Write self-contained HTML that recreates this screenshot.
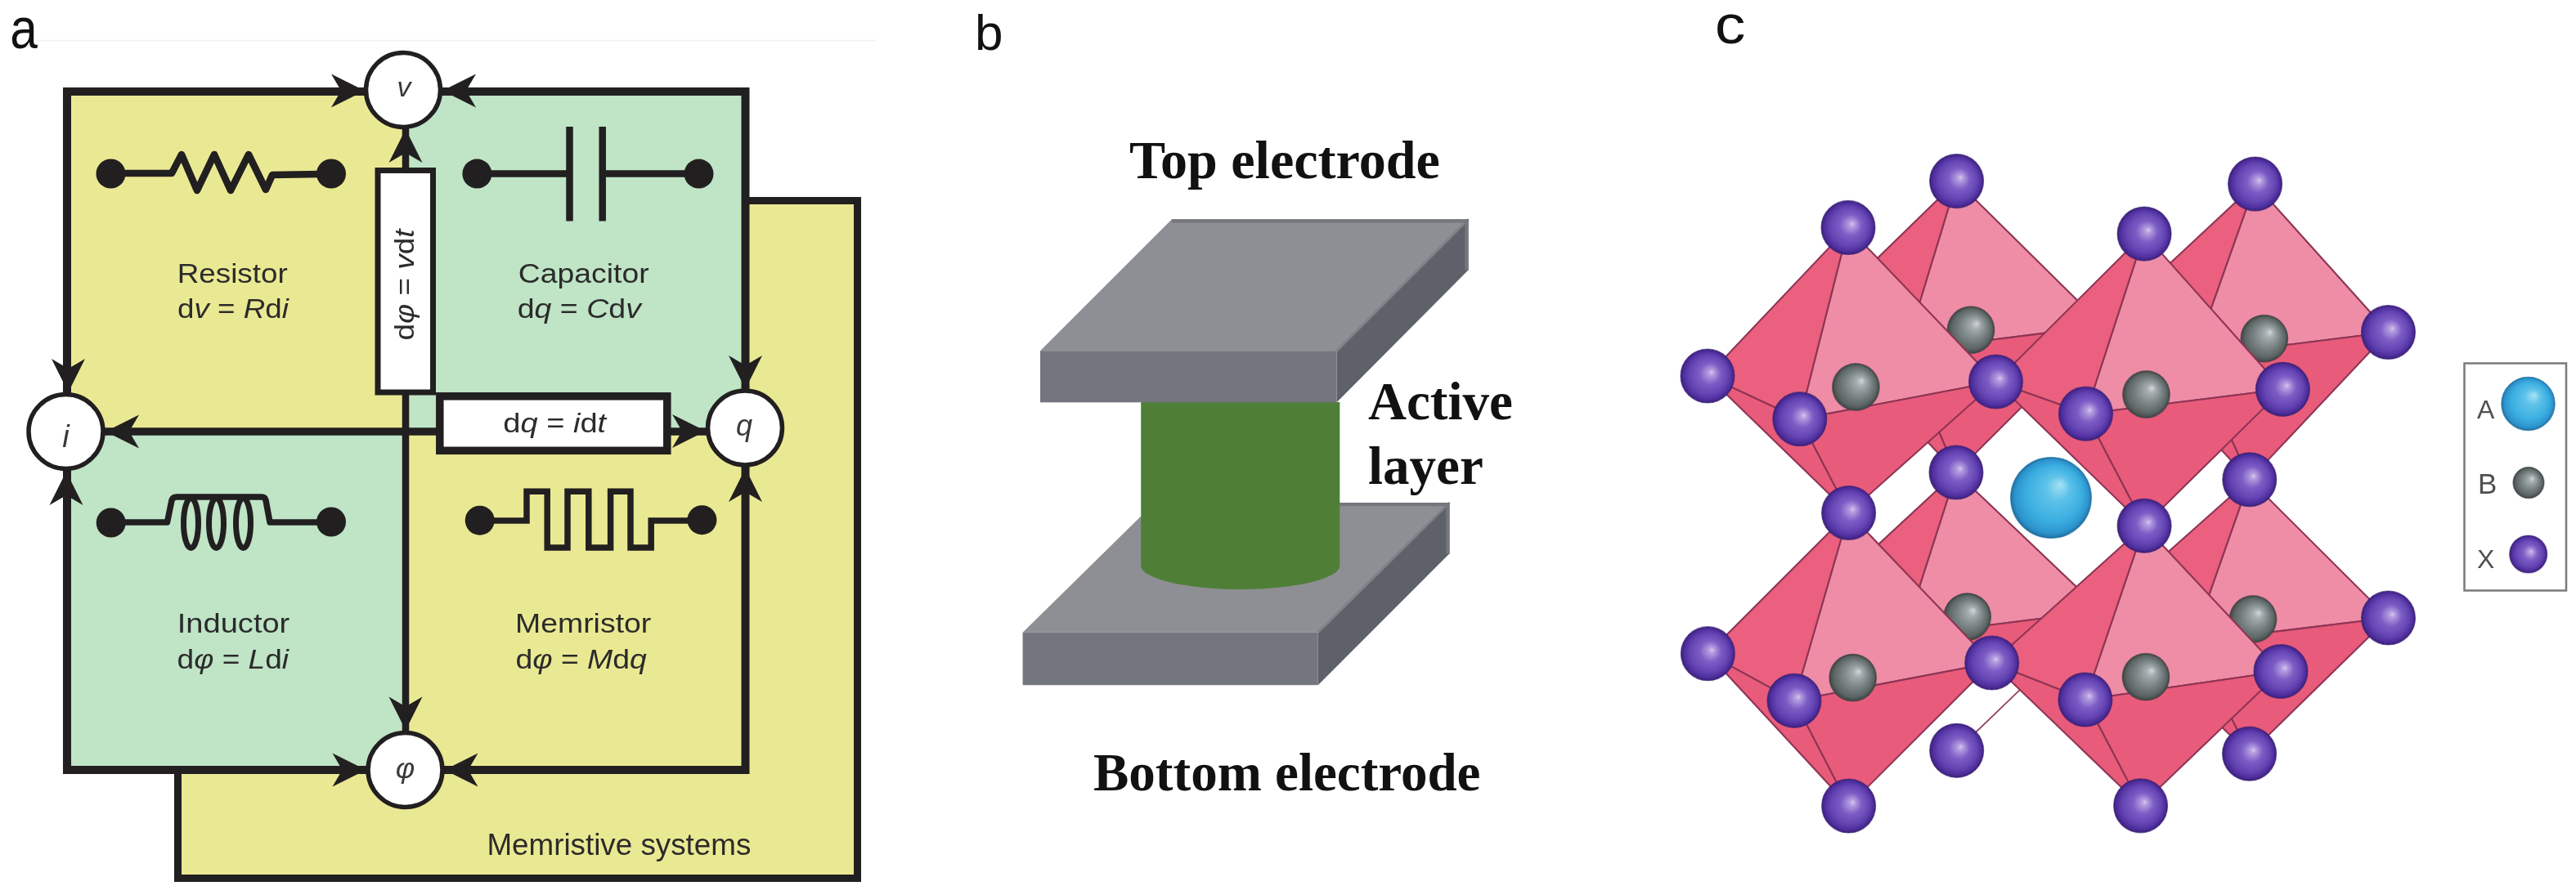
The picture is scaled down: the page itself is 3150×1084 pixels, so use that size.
<!DOCTYPE html>
<html><head><meta charset="utf-8"><style>
html,body{margin:0;padding:0;background:#fff;width:3150px;height:1084px;overflow:hidden}
svg{display:block;will-change:transform}
</style></head><body>
<svg width="3150" height="1084" viewBox="0 0 3150 1084">
<defs>
<radialGradient id="gX" cx="50%" cy="50%" r="50%" fx="58%" fy="43%">
<stop offset="0" stop-color="#D6C6EE"/><stop offset="0.12" stop-color="#B29ADF"/><stop offset="0.4" stop-color="#7C5CC4"/><stop offset="0.72" stop-color="#6444B2"/><stop offset="0.9" stop-color="#4E2E9C"/><stop offset="1" stop-color="#3A2078"/></radialGradient>
<radialGradient id="gB" cx="50%" cy="50%" r="50%" fx="63%" fy="36%">
<stop offset="0" stop-color="#D2D6DA"/><stop offset="0.2" stop-color="#A4ABAE"/><stop offset="0.55" stop-color="#7A8484"/><stop offset="0.85" stop-color="#5C6464"/><stop offset="1" stop-color="#3E4444"/></radialGradient>
<radialGradient id="gA" cx="50%" cy="50%" r="50%" fx="62%" fy="33%">
<stop offset="0" stop-color="#A8E2F4"/><stop offset="0.3" stop-color="#5EC2EA"/><stop offset="0.7" stop-color="#3AAEE0"/><stop offset="0.92" stop-color="#2C92CC"/><stop offset="1" stop-color="#1F6E9E"/></radialGradient>
</defs>
<rect width="3150" height="1084" fill="#fff"/>
<line x1="45" y1="49.5" x2="1071" y2="49.5" stroke="#f1f1f1" stroke-width="1.5"/>
<text x="12.3" y="59.4" font-family="Liberation Sans, sans-serif" font-size="70" fill="#111" textLength="33.6" lengthAdjust="spacingAndGlyphs">a</text>
<rect x="217.5" y="245.5" width="831" height="829" fill="#EAE993" stroke="#221F20" stroke-width="9"/>
<rect x="82" y="112" width="414" height="416" fill="#EAE993"/>
<rect x="496" y="112" width="415.5" height="416" fill="#BFE4C6"/>
<rect x="82" y="528" width="414" height="414" fill="#BFE4C6"/>
<rect x="496" y="528" width="415.5" height="414" fill="#EAE993"/>
<path d="M82,528 L82,112 L911.5,112 L911.5,942 L82,942 Z" fill="none" stroke="#221F20" stroke-width="10" stroke-linejoin="miter"/>
<line x1="496" y1="150" x2="496" y2="900" stroke="#221F20" stroke-width="8.5"/>
<line x1="120" y1="528" x2="870" y2="528" stroke="#221F20" stroke-width="9.5"/>
<rect x="462" y="208.5" width="67.5" height="271.5" fill="#fff" stroke="#221F20" stroke-width="7"/>
<rect x="537.8" y="484.8" width="278" height="66.5" fill="#fff" stroke="#221F20" stroke-width="9.5"/>
<polygon points="446.0,111.0 405.0,131.5 417.0,111.0 405.0,90.5" fill="#221F20"/>
<polygon points="541.0,111.0 582.0,90.5 570.0,111.0 582.0,131.5" fill="#221F20"/>
<polygon points="496.0,158.0 516.5,199.0 496.0,187.0 475.5,199.0" fill="#221F20"/>
<polygon points="83.5,480.0 63.0,439.0 83.5,451.0 104.0,439.0" fill="#221F20"/>
<polygon points="81.0,577.0 101.5,618.0 81.0,606.0 60.5,618.0" fill="#221F20"/>
<polygon points="129.0,528.0 170.0,507.5 158.0,528.0 170.0,548.5" fill="#221F20"/>
<polygon points="911.5,476.0 891.0,435.0 911.5,447.0 932.0,435.0" fill="#221F20"/>
<polygon points="911.5,573.0 932.0,614.0 911.5,602.0 891.0,614.0" fill="#221F20"/>
<polygon points="863.0,527.5 822.0,548.0 834.0,527.5 822.0,507.0" fill="#221F20"/>
<polygon points="496.0,893.5 475.5,852.5 496.0,864.5 516.5,852.5" fill="#221F20"/>
<polygon points="447.5,942.0 406.5,962.5 418.5,942.0 406.5,921.5" fill="#221F20"/>
<polygon points="543.5,942.0 584.5,921.5 572.5,942.0 584.5,962.5" fill="#221F20"/>
<circle cx="493.0" cy="110.0" r="45.5" fill="#fff" stroke="#221F20" stroke-width="5.5"/>
<circle cx="80.5" cy="528.0" r="45.5" fill="#fff" stroke="#221F20" stroke-width="5.5"/>
<circle cx="911.0" cy="523.5" r="45.5" fill="#fff" stroke="#221F20" stroke-width="5.5"/>
<circle cx="495.5" cy="942.0" r="45.5" fill="#fff" stroke="#221F20" stroke-width="5.5"/>
<text x="494" y="118" font-size="34" font-family="Liberation Sans, sans-serif" font-style="italic" fill="#3a3a3a" text-anchor="middle">v</text>
<text x="80.5" y="546.5" font-size="38" font-family="Liberation Sans, sans-serif" font-style="italic" fill="#3a3a3a" text-anchor="middle">i</text>
<text x="910" y="533" font-size="36" font-family="Liberation Sans, sans-serif" font-style="italic" fill="#3a3a3a" text-anchor="middle">q</text>
<text x="495.5" y="951.5" font-size="36" font-family="Liberation Sans, sans-serif" font-style="italic" fill="#3a3a3a" text-anchor="middle">φ</text>
<circle cx="135.5" cy="212.5" r="18" fill="#221F20"/>
<circle cx="405.0" cy="212.5" r="18" fill="#221F20"/>
<path d="M150,212 L210,212 L222,189 L241,233 L262,189 L282,233 L304,189 L325,232 L333,214 L392,213" fill="none" stroke="#221F20" stroke-width="8.6" stroke-linejoin="round"/>
<circle cx="583.4" cy="212.6" r="18" fill="#221F20"/>
<circle cx="854.5" cy="212.6" r="18" fill="#221F20"/>
<path d="M590,212.5 L696,212.5 M737,212.5 L840,212.5 M696.5,155 L696.5,270.5 M736.7,155 L736.7,270.5" fill="none" stroke="#221F20" stroke-width="8.5"/>
<circle cx="135.7" cy="639.5" r="18" fill="#221F20"/>
<circle cx="405.0" cy="638.5" r="18" fill="#221F20"/>
<path d="M150,639 L204.5,639 L210,612 Q211.5,608 216,608 L320,608 Q324,608 325,612 L330,639 L392,639" fill="none" stroke="#221F20" stroke-width="7.5" stroke-linejoin="round"/>
<ellipse cx="233.5" cy="640" rx="9" ry="30.5" fill="none" stroke="#221F20" stroke-width="7"/>
<ellipse cx="264.5" cy="640" rx="9" ry="30.5" fill="none" stroke="#221F20" stroke-width="7"/>
<ellipse cx="297.5" cy="640" rx="9" ry="30.5" fill="none" stroke="#221F20" stroke-width="7"/>
<circle cx="586.7" cy="636.7" r="18" fill="#221F20"/>
<circle cx="858.4" cy="636.2" r="18" fill="#221F20"/>
<path d="M600,637 L644,637 L644,601.3 L669.2,601.3 L669.2,670 L694,670 L694,601.3 L719.8,601.3 L719.8,670 L746.6,670 L746.6,601.3 L771,601.3 L771,670 L796.2,670 L796.2,637 L845,637" fill="none" stroke="#221F20" stroke-width="7.5" stroke-linejoin="miter"/>
<text x="216.8" y="346.4" font-family="Liberation Sans, sans-serif" font-size="34" fill="#2b2b2b" textLength="134.9" lengthAdjust="spacingAndGlyphs" >Resistor</text>
<text x="217.0" y="389.0" font-family="Liberation Sans, sans-serif" font-size="34" fill="#2b2b2b" textLength="135.9" lengthAdjust="spacingAndGlyphs" >d<tspan font-style="italic">v</tspan> = <tspan font-style="italic">R</tspan>d<tspan font-style="italic">i</tspan></text>
<text x="633.8" y="346.4" font-family="Liberation Sans, sans-serif" font-size="34" fill="#2b2b2b" textLength="159.9" lengthAdjust="spacingAndGlyphs" >Capacitor</text>
<text x="632.7" y="389.0" font-family="Liberation Sans, sans-serif" font-size="34" fill="#2b2b2b" textLength="151.2" lengthAdjust="spacingAndGlyphs" >d<tspan font-style="italic">q</tspan> = <tspan font-style="italic">C</tspan>d<tspan font-style="italic">v</tspan></text>
<text x="216.8" y="773.5" font-family="Liberation Sans, sans-serif" font-size="34" fill="#2b2b2b" textLength="137.5" lengthAdjust="spacingAndGlyphs" >Inductor</text>
<text x="216.6" y="817.5" font-family="Liberation Sans, sans-serif" font-size="34" fill="#2b2b2b" textLength="136.4" lengthAdjust="spacingAndGlyphs" >d<tspan font-style="italic">φ</tspan> = <tspan font-style="italic">L</tspan>d<tspan font-style="italic">i</tspan></text>
<text x="630.0" y="773.5" font-family="Liberation Sans, sans-serif" font-size="34" fill="#2b2b2b" textLength="166.3" lengthAdjust="spacingAndGlyphs" >Memristor</text>
<text x="630.4" y="817.5" font-family="Liberation Sans, sans-serif" font-size="34" fill="#2b2b2b" textLength="160.4" lengthAdjust="spacingAndGlyphs" >d<tspan font-style="italic">φ</tspan> = <tspan font-style="italic">M</tspan>d<tspan font-style="italic">q</tspan></text>
<text x="615.3" y="529.4" font-family="Liberation Sans, sans-serif" font-size="34" fill="#2b2b2b" textLength="125.9" lengthAdjust="spacingAndGlyphs" >d<tspan font-style="italic">q</tspan> = <tspan font-style="italic">i</tspan>d<tspan font-style="italic">t</tspan></text>
<text x="0.0" y="0.0" font-family="Liberation Sans, sans-serif" font-size="34" fill="#2b2b2b" textLength="136.0" lengthAdjust="spacingAndGlyphs" transform="translate(505.5,416.5) rotate(-90)">d<tspan font-style="italic">φ</tspan> = <tspan font-style="italic">v</tspan>d<tspan font-style="italic">t</tspan></text>
<text x="595.4" y="1046.0" font-family="Liberation Sans, sans-serif" font-size="36.5" fill="#2b2b2b" textLength="322.9" lengthAdjust="spacingAndGlyphs" >Memristive systems</text>
<text x="1192" y="60.7" font-family="Liberation Sans, sans-serif" font-size="62" fill="#111">b</text>
<text x="1381" y="218.3" font-family="Liberation Serif, serif" font-weight="bold" font-size="65" fill="#111" textLength="379.8" lengthAdjust="spacingAndGlyphs">Top electrode</text>
<text x="1673" y="513.2" font-family="Liberation Serif, serif" font-weight="bold" font-size="65" fill="#111">Active</text>
<text x="1673" y="591.8" font-family="Liberation Serif, serif" font-weight="bold" font-size="65" fill="#111">layer</text>
<text x="1337" y="966.9" font-family="Liberation Serif, serif" font-weight="bold" font-size="65" fill="#111">Bottom electrode</text>
<polygon points="1250.6,773.8 1412,615 1772.5,615 1611.7,773.8" fill="#8E8F94"/>
<polygon points="1611.7,773.8 1772.5,615 1772.5,677.3 1611.7,838.2" fill="#5E6169"/>
<rect x="1250.6" y="773.8" width="361.1" height="64.4" fill="#73767E"/>
<path d="M1611.7,773.8 L1772.5,615" stroke="#7E8187" stroke-width="3" fill="none"/>
<path d="M1412,617.1 L1770.4,617.1 L1770.4,677.5" stroke="#74777D" stroke-width="4.2" fill="none"/>
<path d="M1395.2,492 L1638.3,492 L1638.3,692 A121.55,29 0 0 1 1395.2,692 Z" fill="#4F7F37"/>
<polygon points="1272,429.2 1433,268.3 1795.6,268.3 1634.6,429.2" fill="#8E8F94"/>
<polygon points="1634.6,429.2 1795.6,268.3 1795.6,330.2 1634.6,492.3" fill="#5E6169"/>
<rect x="1272" y="429.2" width="362.6" height="63.1" fill="#73767E"/>
<path d="M1634.6,429.2 L1795.6,268.3" stroke="#7E8187" stroke-width="3" fill="none"/>
<path d="M1433,270.4 L1793.5,270.4 L1793.5,330.5" stroke="#74777D" stroke-width="4.2" fill="none"/>
<polygon points="2571.8,398.6 2392.6,221.6 2329.4,429.0" fill="#EF8DA6" stroke="#8E3555" stroke-width="2.1" stroke-linejoin="round"/>
<polygon points="2571.8,398.6 2392.0,578.0 2329.4,429.0" fill="#E95B7B" stroke="#8E3555" stroke-width="2.1" stroke-linejoin="round"/>
<polygon points="2218.4,391.5 2392.6,221.6 2329.4,429.0" fill="#EA607E" stroke="#8E3555" stroke-width="2.1" stroke-linejoin="round"/>
<polygon points="2218.4,391.5 2392.0,578.0 2329.4,429.0" fill="#E95B7B" stroke="#8E3555" stroke-width="2.1" stroke-linejoin="round"/>
<polygon points="2920.5,406.5 2757.6,225.1 2682.9,436.1" fill="#EF8DA6" stroke="#8E3555" stroke-width="2.1" stroke-linejoin="round"/>
<polygon points="2920.5,406.5 2750.8,586.8 2682.9,436.1" fill="#E95B7B" stroke="#8E3555" stroke-width="2.1" stroke-linejoin="round"/>
<polygon points="2571.8,398.6 2757.6,225.1 2682.9,436.1" fill="#EA607E" stroke="#8E3555" stroke-width="2.1" stroke-linejoin="round"/>
<polygon points="2571.8,398.6 2750.8,586.8 2682.9,436.1" fill="#E95B7B" stroke="#8E3555" stroke-width="2.1" stroke-linejoin="round"/>
<polygon points="2570.2,747.5 2392.0,578.0 2327.8,778.0" fill="#EF8DA6" stroke="#8E3555" stroke-width="2.1" stroke-linejoin="round"/>
<polygon points="2570.2,747.5 2392.7,918.3 2327.8,778.0" fill="#E95B7B" stroke="#8E3555" stroke-width="2.1" stroke-linejoin="round"/>
<polygon points="2216.7,740.5 2392.0,578.0 2327.8,778.0" fill="#EA607E" stroke="#8E3555" stroke-width="2.1" stroke-linejoin="round"/>
<polygon points="2920.5,756.0 2750.8,586.8 2681.2,785.0" fill="#EF8DA6" stroke="#8E3555" stroke-width="2.1" stroke-linejoin="round"/>
<polygon points="2920.5,756.0 2750.6,922.2 2681.2,785.0" fill="#E95B7B" stroke="#8E3555" stroke-width="2.1" stroke-linejoin="round"/>
<polygon points="2570.2,747.5 2750.8,586.8 2681.2,785.0" fill="#EA607E" stroke="#8E3555" stroke-width="2.1" stroke-linejoin="round"/>
<polygon points="2570.2,747.5 2750.6,922.2 2681.2,785.0" fill="#E95B7B" stroke="#8E3555" stroke-width="2.1" stroke-linejoin="round"/>
<polygon points="2436,811 2150,1084 2760,1084" fill="#fff"/>
<line x1="2392.7" y1="918.3" x2="2570.2" y2="747.5" stroke="#8E3555" stroke-width="1.7"/>
<circle cx="2410.0" cy="403.7" r="28.8" fill="url(#gB)" stroke="#3a4040" stroke-width="1.2" stroke-opacity="0.6"/>
<circle cx="2768.8" cy="414.2" r="28.8" fill="url(#gB)" stroke="#3a4040" stroke-width="1.2" stroke-opacity="0.6"/>
<circle cx="2405.7" cy="754.6" r="28.8" fill="url(#gB)" stroke="#3a4040" stroke-width="1.2" stroke-opacity="0.6"/>
<circle cx="2755.0" cy="757.5" r="28.8" fill="url(#gB)" stroke="#3a4040" stroke-width="1.2" stroke-opacity="0.6"/>
<circle cx="2392.6" cy="221.6" r="33.0" fill="url(#gX)" stroke="#3a1f74" stroke-width="1.2" stroke-opacity="0.6"/>
<circle cx="2757.6" cy="225.1" r="33.0" fill="url(#gX)" stroke="#3a1f74" stroke-width="1.2" stroke-opacity="0.6"/>
<circle cx="2218.4" cy="391.5" r="33.0" fill="url(#gX)" stroke="#3a1f74" stroke-width="1.2" stroke-opacity="0.6"/>
<circle cx="2571.8" cy="398.6" r="33.0" fill="url(#gX)" stroke="#3a1f74" stroke-width="1.2" stroke-opacity="0.6"/>
<circle cx="2920.5" cy="406.5" r="33.0" fill="url(#gX)" stroke="#3a1f74" stroke-width="1.2" stroke-opacity="0.6"/>
<circle cx="2392.0" cy="578.0" r="33.0" fill="url(#gX)" stroke="#3a1f74" stroke-width="1.2" stroke-opacity="0.6"/>
<circle cx="2750.8" cy="586.8" r="33.0" fill="url(#gX)" stroke="#3a1f74" stroke-width="1.2" stroke-opacity="0.6"/>
<circle cx="2216.7" cy="740.5" r="33.0" fill="url(#gX)" stroke="#3a1f74" stroke-width="1.2" stroke-opacity="0.6"/>
<circle cx="2570.2" cy="747.5" r="33.0" fill="url(#gX)" stroke="#3a1f74" stroke-width="1.2" stroke-opacity="0.6"/>
<circle cx="2920.5" cy="756.0" r="33.0" fill="url(#gX)" stroke="#3a1f74" stroke-width="1.2" stroke-opacity="0.6"/>
<circle cx="2392.7" cy="918.3" r="33.0" fill="url(#gX)" stroke="#3a1f74" stroke-width="1.2" stroke-opacity="0.6"/>
<circle cx="2750.6" cy="922.2" r="33.0" fill="url(#gX)" stroke="#3a1f74" stroke-width="1.2" stroke-opacity="0.6"/>
<circle cx="2329.4" cy="429.0" r="33.0" fill="url(#gX)" stroke="#3a1f74" stroke-width="1.2" stroke-opacity="0.6"/>
<circle cx="2682.9" cy="436.1" r="33.0" fill="url(#gX)" stroke="#3a1f74" stroke-width="1.2" stroke-opacity="0.6"/>
<circle cx="2327.8" cy="778.0" r="33.0" fill="url(#gX)" stroke="#3a1f74" stroke-width="1.2" stroke-opacity="0.6"/>
<circle cx="2681.2" cy="785.0" r="33.0" fill="url(#gX)" stroke="#3a1f74" stroke-width="1.2" stroke-opacity="0.6"/>
<circle cx="2508.0" cy="609.0" r="49.4" fill="url(#gA)" stroke="#1f6e9e" stroke-width="1.2" stroke-opacity="0.6"/>
<polygon points="2440.5,467.0 2260.0,278.4 2200.8,512.7" fill="#EF8DA6" stroke="#8E3555" stroke-width="2.1" stroke-linejoin="round"/>
<polygon points="2440.5,467.0 2260.6,627.5 2200.8,512.7" fill="#E95B7B" stroke="#8E3555" stroke-width="2.1" stroke-linejoin="round"/>
<polygon points="2088.0,460.0 2260.0,278.4 2200.8,512.7" fill="#EA607E" stroke="#8E3555" stroke-width="2.1" stroke-linejoin="round"/>
<polygon points="2088.0,460.0 2260.6,627.5 2200.8,512.7" fill="#E95B7B" stroke="#8E3555" stroke-width="2.1" stroke-linejoin="round"/>
<polygon points="2791.4,476.3 2622.1,286.1 2550.5,506.2" fill="#EF8DA6" stroke="#8E3555" stroke-width="2.1" stroke-linejoin="round"/>
<polygon points="2791.4,476.3 2622.1,643.3 2550.5,506.2" fill="#E95B7B" stroke="#8E3555" stroke-width="2.1" stroke-linejoin="round"/>
<polygon points="2440.5,467.0 2622.1,286.1 2550.5,506.2" fill="#EA607E" stroke="#8E3555" stroke-width="2.1" stroke-linejoin="round"/>
<polygon points="2440.5,467.0 2622.1,643.3 2550.5,506.2" fill="#E95B7B" stroke="#8E3555" stroke-width="2.1" stroke-linejoin="round"/>
<polygon points="2435.7,811.0 2260.6,627.5 2194.0,857.3" fill="#EF8DA6" stroke="#8E3555" stroke-width="2.1" stroke-linejoin="round"/>
<polygon points="2435.7,811.0 2260.6,986.0 2194.0,857.3" fill="#E95B7B" stroke="#8E3555" stroke-width="2.1" stroke-linejoin="round"/>
<polygon points="2088.4,799.7 2260.6,627.5 2194.0,857.3" fill="#EA607E" stroke="#8E3555" stroke-width="2.1" stroke-linejoin="round"/>
<polygon points="2088.4,799.7 2260.6,986.0 2194.0,857.3" fill="#E95B7B" stroke="#8E3555" stroke-width="2.1" stroke-linejoin="round"/>
<polygon points="2789.0,821.5 2622.1,643.3 2549.9,856.0" fill="#EF8DA6" stroke="#8E3555" stroke-width="2.1" stroke-linejoin="round"/>
<polygon points="2789.0,821.5 2617.6,985.8 2549.9,856.0" fill="#E95B7B" stroke="#8E3555" stroke-width="2.1" stroke-linejoin="round"/>
<polygon points="2435.7,811.0 2622.1,643.3 2549.9,856.0" fill="#EA607E" stroke="#8E3555" stroke-width="2.1" stroke-linejoin="round"/>
<polygon points="2435.7,811.0 2617.6,985.8 2549.9,856.0" fill="#E95B7B" stroke="#8E3555" stroke-width="2.1" stroke-linejoin="round"/>
<circle cx="2269.4" cy="473.5" r="28.8" fill="url(#gB)" stroke="#3a4040" stroke-width="1.2" stroke-opacity="0.6"/>
<circle cx="2624.5" cy="482.5" r="28.8" fill="url(#gB)" stroke="#3a4040" stroke-width="1.2" stroke-opacity="0.6"/>
<circle cx="2265.7" cy="829.1" r="28.8" fill="url(#gB)" stroke="#3a4040" stroke-width="1.2" stroke-opacity="0.6"/>
<circle cx="2624.0" cy="828.2" r="28.8" fill="url(#gB)" stroke="#3a4040" stroke-width="1.2" stroke-opacity="0.6"/>
<circle cx="2260.0" cy="278.4" r="33.0" fill="url(#gX)" stroke="#3a1f74" stroke-width="1.2" stroke-opacity="0.6"/>
<circle cx="2622.1" cy="286.1" r="33.0" fill="url(#gX)" stroke="#3a1f74" stroke-width="1.2" stroke-opacity="0.6"/>
<circle cx="2088.0" cy="460.0" r="33.0" fill="url(#gX)" stroke="#3a1f74" stroke-width="1.2" stroke-opacity="0.6"/>
<circle cx="2440.5" cy="467.0" r="33.0" fill="url(#gX)" stroke="#3a1f74" stroke-width="1.2" stroke-opacity="0.6"/>
<circle cx="2791.4" cy="476.3" r="33.0" fill="url(#gX)" stroke="#3a1f74" stroke-width="1.2" stroke-opacity="0.6"/>
<circle cx="2260.6" cy="627.5" r="33.0" fill="url(#gX)" stroke="#3a1f74" stroke-width="1.2" stroke-opacity="0.6"/>
<circle cx="2622.1" cy="643.3" r="33.0" fill="url(#gX)" stroke="#3a1f74" stroke-width="1.2" stroke-opacity="0.6"/>
<circle cx="2088.4" cy="799.7" r="33.0" fill="url(#gX)" stroke="#3a1f74" stroke-width="1.2" stroke-opacity="0.6"/>
<circle cx="2435.7" cy="811.0" r="33.0" fill="url(#gX)" stroke="#3a1f74" stroke-width="1.2" stroke-opacity="0.6"/>
<circle cx="2789.0" cy="821.5" r="33.0" fill="url(#gX)" stroke="#3a1f74" stroke-width="1.2" stroke-opacity="0.6"/>
<circle cx="2260.6" cy="986.0" r="33.0" fill="url(#gX)" stroke="#3a1f74" stroke-width="1.2" stroke-opacity="0.6"/>
<circle cx="2617.6" cy="985.8" r="33.0" fill="url(#gX)" stroke="#3a1f74" stroke-width="1.2" stroke-opacity="0.6"/>
<circle cx="2200.8" cy="512.7" r="33.0" fill="url(#gX)" stroke="#3a1f74" stroke-width="1.2" stroke-opacity="0.6"/>
<circle cx="2550.5" cy="506.2" r="33.0" fill="url(#gX)" stroke="#3a1f74" stroke-width="1.2" stroke-opacity="0.6"/>
<circle cx="2194.0" cy="857.3" r="33.0" fill="url(#gX)" stroke="#3a1f74" stroke-width="1.2" stroke-opacity="0.6"/>
<circle cx="2549.9" cy="856.0" r="33.0" fill="url(#gX)" stroke="#3a1f74" stroke-width="1.2" stroke-opacity="0.6"/>
<text x="2097" y="52.5" font-family="Liberation Sans, sans-serif" font-size="66" fill="#111" textLength="37.3" lengthAdjust="spacingAndGlyphs">c</text>
<rect x="3013.5" y="444.5" width="124.5" height="278" fill="#fff" stroke="#7a7a7a" stroke-width="2.5"/>
<text x="3029" y="512" font-family="Liberation Sans, sans-serif" font-size="32" fill="#505050">A</text>
<text x="3030" y="604" font-family="Liberation Sans, sans-serif" font-size="35" fill="#505050">B</text>
<text x="3029" y="695" font-family="Liberation Sans, sans-serif" font-size="32" fill="#505050">X</text>
<circle cx="3091.5" cy="494.0" r="32.7" fill="url(#gA)" stroke="#1f6e9e" stroke-width="1.2" stroke-opacity="0.6"/>
<circle cx="3092.0" cy="590.6" r="19.0" fill="url(#gB)" stroke="#3a4040" stroke-width="1.2" stroke-opacity="0.6"/>
<circle cx="3091.7" cy="678.0" r="23.0" fill="url(#gX)" stroke="#3a1f74" stroke-width="1.2" stroke-opacity="0.6"/>
</svg>
</body></html>
